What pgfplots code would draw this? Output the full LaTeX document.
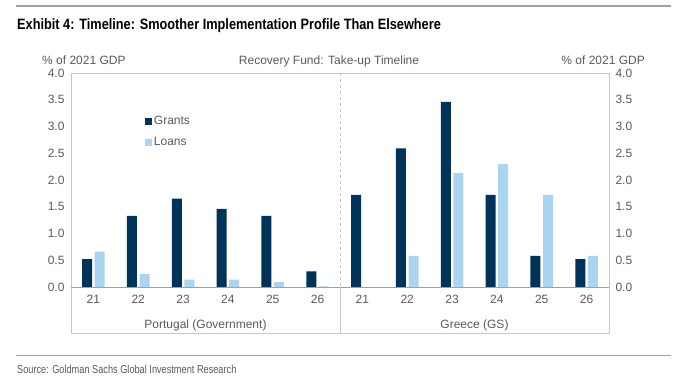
\documentclass[border=0pt]{standalone}
\usepackage{pgfplots}
\pgfplotsset{compat=1.18}
\usepackage{fontspec}
\setmainfont{Liberation Sans}
\newfontfamily\titlefont[FakeStretch=0.85]{Liberation Sans}
\newfontfamily\srcfont[FakeStretch=0.80]{Liberation Sans}
\definecolor{grantc}{RGB}{0,51,89}
\definecolor{loanc}{RGB}{171,212,240}
\definecolor{txt}{RGB}{89,89,89}
\definecolor{frame}{RGB}{200,200,200}
\definecolor{rule}{RGB}{160,160,160}
\begin{document}
\begin{tikzpicture}[x=1pt,y=1pt]
\useasboundingbox (0,0) rectangle (689,384);
\draw[rule, line width=1.6pt] (16,378) -- (671,378);
\node[anchor=base west, inner sep=0pt, font=\titlefont\bfseries\fontsize{15}{16}\selectfont] at (17,355) {Exhibit 4: Timeline: Smoother Implementation Profile Than Elsewhere};
\draw[rule, line width=1.2pt] (16,28.7) -- (671,28.7);
\node[anchor=base west, inner sep=0pt, text=txt, font=\srcfont\fontsize{11.5}{12}\selectfont] at (17,11) {Source: Goldman Sachs Global Investment Research};
\node[anchor=base west, inner sep=0pt, text=txt, font=\fontsize{12}{12}\selectfont] at (42,319.5) {\% of 2021 GDP};
\node[anchor=base east, inner sep=0pt, text=txt, font=\fontsize{12}{12}\selectfont] at (645,319.5) {\% of 2021 GDP};
\node[anchor=base, inner sep=0pt, text=txt, font=\fontsize{12}{12}\selectfont] at (329,319.5) {Recovery Fund: Take-up Timeline};
\begin{axis}[
  at={(71pt,97pt)}, anchor=south west,
  width=538pt, height=214pt, scale only axis,
  xmin=-0.5, xmax=11.5, ymin=0, ymax=4,
  clip=false,
  ybar=2.6pt, bar width=10pt,
  axis line style={draw=frame},
  major tick length=0pt,
  xtick={0,...,11},
  xticklabels={21,22,23,24,25,26,21,22,23,24,25,26},
  ytick={0,0.5,...,4},
  yticklabel style={/pgf/number format/fixed, /pgf/number format/fixed zerofill, /pgf/number format/precision=1},
  /pgf/number format/assume math mode=true,
  tick label style={text=txt, font=\fontsize{12}{12}\selectfont},
  xticklabel style={yshift=-5pt},
  yticklabel style={xshift=-3pt},
  legend style={at={(rel axis cs:0.138,0.805)}, anchor=north west, draw=none, fill=none,
    font=\fontsize{12}{12}\selectfont, text=txt, row sep=8pt, inner sep=0pt,
    nodes={inner sep=1.5pt}},
  legend cell align=left,
  legend image code/.code={\fill[#1, draw=none] (0pt,-3.4pt) rectangle (7pt,3.4pt);},
]
\addplot[fill=grantc, draw=none] coordinates {(0,0.52) (1,1.33) (2,1.65) (3,1.46) (4,1.33) (5,0.29) (6,1.72) (7,2.59) (8,3.46) (9,1.72) (10,0.58) (11,0.52)};
\addlegendentry{Grants}
\addplot[fill=loanc, draw=none] coordinates {(0,0.66) (1,0.24) (2,0.14) (3,0.14) (4,0.09) (5,0.01) (7,0.58) (8,2.13) (9,2.30) (10,1.72) (11,0.58)};
\addlegendentry{Loans}
\draw[frame] (rel axis cs:0,0) -- (rel axis cs:0,-0.215) -- (rel axis cs:1,-0.215) -- (rel axis cs:1,0);
\draw[frame, dashed] (axis cs:5.5,4) -- (axis cs:5.5,0);
\draw[frame] (axis cs:5.5,0) -- (rel axis cs:0.5,-0.215);
\draw[rule, line width=0.8pt] (axis cs:-0.5,0) -- (axis cs:11.5,0);
\node[text=txt, font=\fontsize{12}{12}\selectfont] at (rel axis cs:0.25,-0.178) {Portugal (Government)};
\node[text=txt, font=\fontsize{12}{12}\selectfont] at (rel axis cs:0.75,-0.178) {Greece (GS)};
\end{axis}
\begin{axis}[
  at={(71pt,97pt)}, anchor=south west,
  width=538pt, height=214pt, scale only axis,
  xmin=-0.5, xmax=11.5, ymin=0, ymax=4,
  axis x line=none, axis y line*=right,
  y axis line style={draw=none},
  major tick length=0pt,
  xtick=\empty,
  ytick={0,0.5,...,4},
  yticklabel style={/pgf/number format/fixed, /pgf/number format/fixed zerofill, /pgf/number format/precision=1},
  /pgf/number format/assume math mode=true,
  tick label style={text=txt, font=\fontsize{12}{12}\selectfont},
  yticklabel style={xshift=3pt},
]
\end{axis}
\end{tikzpicture}
\end{document}
